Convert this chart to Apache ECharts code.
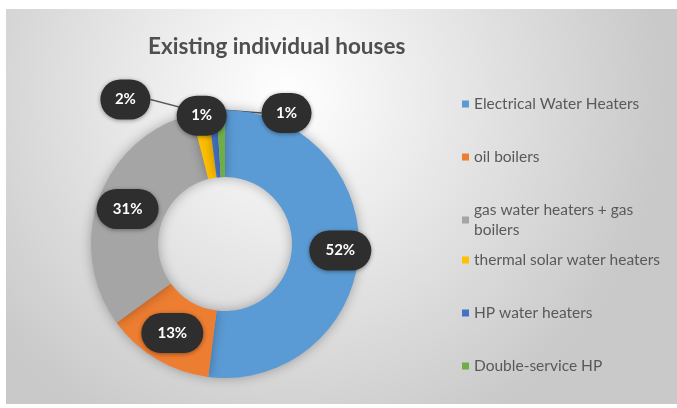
<!DOCTYPE html>
<html><head><meta charset="utf-8">
<script src="https://cdn.jsdelivr.net/npm/echarts@6/dist/echarts.min.js"></script>
<style>
html,body{margin:0;padding:0;background:#fff;}
#c{position:absolute;left:6px;top:9px;width:671px;height:395px;}
</style></head><body><div id="c"></div>
<script>
const categories = ['Electrical Water Heaters','oil boilers','gas water heaters + gas boilers','thermal solar water heaters','HP water heaters','Double-service HP'];
const shares = [52, 13, 31, 2, 1, 1];
const colors = ['#5b9bd5','#ed7d31','#a5a5a5','#ffc000','#4472c4','#70ad47'];

const FONT = 'Lato, "Open Sans", sans-serif';
// label placement tweaks (layout, not data)
const bigOffsets = {0: [12, 0]};
const smallMoves = {3: [-43, -5], 4: [20, 13], 5: [96, 11]};

const data = categories.map((name, i) => {
  const small = smallMoves[i] !== undefined;
  return {
    name: name,
    value: shares[i],
    itemStyle: {color: colors[i]},
    label: small ? {position: 'outside', width: 50} : {position: 'inside', width: 62, offset: bigOffsets[i] || [0, 0]},
    labelLine: {show: small}
  };
});

const legendText = {fontFamily: FONT, fontSize: 15.5, color: '#595959', width: 200, lineHeight: 20, overflow: 'break'};
const legendBase = {orient: 'vertical', left: 451, itemWidth: 7, itemHeight: 7, itemGap: 33, icon: 'rect', textStyle: legendText};

const chart = echarts.init(document.getElementById('c'));
chart.setOption({
  animation: false,
  backgroundColor: {
    type: 'radial', x: 0.42, y: 0.22, r: 0.95,
    colorStops: [{offset: 0, color: '#ffffff'}, {offset: 1, color: '#c9c9c9'}]
  },
  title: {
    text: 'Existing individual houses',
    left: 137, top: 21,
    textStyle: {fontFamily: FONT, fontSize: 22.5, fontWeight: 'bold', color: '#4f4f4f'}
  },
  legend: [
    Object.assign({}, legendBase, {top: 80, data: categories.slice(0, 3)}),
    Object.assign({}, legendBase, {top: 236, data: categories.slice(3)})
  ],
  series: [{
    type: 'pie',
    center: [219, 235],
    radius: [67, 134],
    startAngle: 90,
    clockwise: true,
    avoidLabelOverlap: false,
    itemStyle: {shadowBlur: 12, shadowColor: 'rgba(0,0,0,0.3)'},
    label: {
      show: true,
      formatter: '{d}%',
      color: '#ffffff',
      fontFamily: FONT, fontSize: 15, fontWeight: 'bold',
      backgroundColor: '#2e2e2e',
      borderRadius: 20,
      height: 40, lineHeight: 40,
      align: 'center',
      shadowBlur: 4, shadowColor: 'rgba(0,0,0,0.4)', shadowOffsetY: 1
    },
    labelLine: {length: 8, length2: 0, lineStyle: {color: '#5a5a5a', width: 1.5}},
    labelLayout: function (p) {
      const m = smallMoves[p.dataIndex];
      if (!m) return {};
      const r = p.labelRect;
      return {x: r.x + r.width / 2 + m[0], y: r.y + r.height / 2 + m[1], align: 'center', verticalAlign: 'middle'};
    },
    emphasis: {disabled: true},
    data: data
  }]
});
</script></body></html>
